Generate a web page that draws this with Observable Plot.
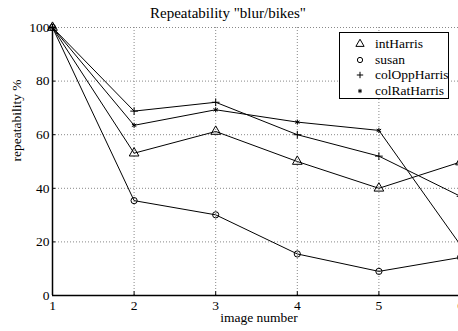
<!DOCTYPE html>
<html>
<head>
<meta charset="utf-8">
<script src="https://cdn.jsdelivr.net/npm/d3@7"></script>
<script src="https://cdn.jsdelivr.net/npm/@observablehq/plot@0.6"></script>
<style>
  html, body { margin: 0; padding: 0; background: white; overflow: hidden; }
  #wrap { position: relative; width: 458px; height: 331px; overflow: hidden; }
  #legend {
    position: absolute; left: 339px; top: 32px; width: 110px; height: 67px;
    border: 1px solid #000; background: #fff; box-sizing: border-box;
    font-family: "Liberation Serif", "Times New Roman", Times, serif; font-size: 13.5px; color: #000;
  }
  .row { position: absolute; left: 0; height: 15px; line-height: 15px; }
  .row svg { position: absolute; left: 14px; top: 2px; }
  .row span { position: absolute; left: 35px; white-space: nowrap; }
  svg text { font-family: "Liberation Serif", "Times New Roman", Times, serif; }
</style>
</head>
<body>
<div id="wrap"><div id="chart"></div><div id="legend"></div></div>
<script>
const imageNumbers = [1, 2, 3, 4, 5, 6];
const xTicks = [1, 2, 3, 4, 5, 6];
const yTicks = [0, 20, 40, 60, 80, 100];
const seriesNames = ["intHarris", "susan", "colOppHarris", "colRatHarris"];
const seriesSymbols = ["triangle", "circle", "plus", "asterisk"];
const intHarris = [100, 53.1, 61.2, 50.0, 40.0, 49.8];
const susan = [100, 35.4, 30.1, 15.5, 9.0, 14.2];
const colOppHarris = [100, 68.8, 72.1, 60.0, 52.0, 37.0];
const colRatHarris = [100, 63.5, 69.3, 64.7, 61.6, 18.8];

const symbolRadius = {triangle: 3.6, circle: 3.1, plus: 2.6, asterisk: 2.4};
const seriesValues = [intHarris, susan, colOppHarris, colRatHarris];
const data = seriesNames.flatMap((name, i) =>
  imageNumbers.map((x, j) => ({name, x, y: seriesValues[i][j], symbol: seriesSymbols[i], r: symbolRadius[seriesSymbols[i]]}))
);

const font = '"Liberation Serif", "Times New Roman", Times, serif';

const chart = Plot.plot({
  width: 458,
  height: 331,
  marginLeft: 52,
  marginRight: -2,
  marginTop: 27,
  marginBottom: 36,
  style: {fontFamily: font, fontSize: "13.5px", color: "#000", background: "white", overflow: "visible"},
  x: {domain: [1, 6], ticks: xTicks},
  y: {domain: [0, 100], ticks: yTicks},
  r: {type: "identity"},
  marks: [
    Plot.ruleX(xTicks.slice(1), {stroke: "#888", strokeDasharray: "1,2", strokeWidth: 1}),
    Plot.ruleY(yTicks.slice(1), {stroke: "#888", strokeDasharray: "1,2", strokeWidth: 1}),
    Plot.ruleX(xTicks, {y1: 0, y2: 1.4, stroke: "#000"}),
    Plot.ruleY(yTicks, {x1: 1, x2: 1.04, stroke: "#000"}),
    Plot.ruleY([0], {stroke: "#000", strokeWidth: 1.5}),
    Plot.ruleX([1], {stroke: "#000", strokeWidth: 1.5}),
    Plot.axisX({ticks: xTicks, tickFormat: d3.format("d"), tickSize: 0, tickPadding: 5, label: null, fontSize: 13.5, fontFamily: font}),
    Plot.axisY({ticks: yTicks, tickFormat: d3.format("d"), tickSize: 0, tickPadding: 3, label: null, fontSize: 13.5, fontFamily: font}),
    Plot.line(data, {x: "x", y: "y", z: "name", stroke: "#000", strokeWidth: 1}),
    Plot.dot(data, {x: "x", y: "y", symbol: "symbol", r: "r", stroke: "#000", fill: "none", strokeWidth: 1}),
    Plot.text(["image number"], {frameAnchor: "bottom", dx: 2.5, dy: 22.5, fontSize: 13.5, lineAnchor: "middle", fontFamily: font}),
    Plot.text(["repeatability %"], {frameAnchor: "left", dx: -36, rotate: -90, fontSize: 13.5, lineAnchor: "middle", fontFamily: font}),
    Plot.text(['Repeatability "blur/bikes"'], {frameAnchor: "top", dx: -28.5, dy: -14.5, fontSize: 15, lineAnchor: "middle", fontFamily: font})
  ]
});
document.getElementById("chart").append(chart);

// Legend using the same symbol shapes as the marks
const legend = document.getElementById("legend");
seriesNames.forEach((name, i) => {
  const row = document.createElement("div");
  row.className = "row";
  row.style.top = (3 + i * 15.5) + "px";
  const symType = {triangle: d3.symbolTriangle, circle: d3.symbolCircle, plus: d3.symbolPlus, asterisk: d3.symbolAsterisk}[seriesSymbols[i]];
  const rr = symbolRadius[seriesSymbols[i]] * 0.85;
  const path = d3.symbol(symType, Math.PI * rr * rr)();
  row.innerHTML = `<svg width="12" height="12" viewBox="-6 -6 12 12"><path d="${path}" fill="none" stroke="#000" stroke-width="1"/></svg><span>${name}</span>`;
  legend.append(row);
});
</script>
</body>
</html>
